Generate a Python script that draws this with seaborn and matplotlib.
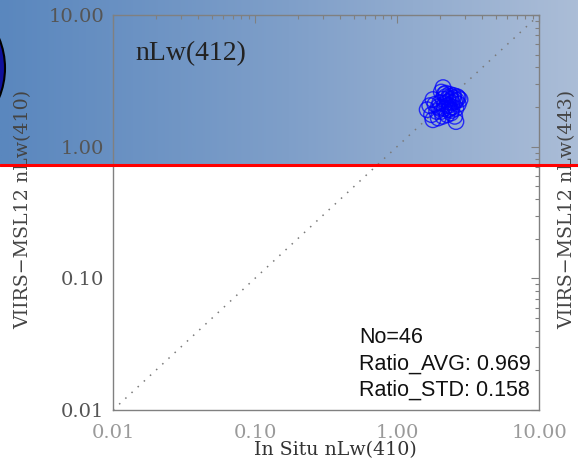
import numpy as np
import pandas as pd
import matplotlib
matplotlib.use("Agg")
import matplotlib.pyplot as plt
import seaborn as sns
from matplotlib.colors import LinearSegmentedColormap
from matplotlib.lines import Line2D
from matplotlib.patches import Circle
from matplotlib.ticker import LogLocator, NullFormatter

# ---- data ----
insitu = [2.11, 2.05, 2.20, 1.79, 1.70, 1.63, 1.75, 1.79, 1.95, 2.60,
          2.55, 2.78, 2.70, 2.65, 2.50, 2.40, 2.30, 2.25, 2.35, 2.45,
          2.15, 2.05, 1.95, 2.00, 2.10, 2.20, 2.35, 2.55, 2.60, 2.40,
          2.25, 2.10, 1.90, 1.85, 2.28, 2.45, 2.18, 2.32, 2.50, 2.38,
          2.15, 2.62, 2.42, 2.00, 2.70, 2.30]
viirs = [2.81, 2.60, 2.55, 2.28, 2.05, 1.91, 1.75, 1.60, 1.65, 1.55,
         1.70, 2.28, 2.10, 2.40, 2.45, 2.30, 2.20, 2.05, 1.95, 2.00,
         1.95, 1.85, 2.00, 2.15, 2.30, 2.40, 2.50, 2.20, 1.95, 1.80,
         1.75, 1.70, 1.85, 2.10, 2.32, 2.15, 2.12, 2.05, 2.35, 2.42,
         2.50, 2.25, 1.88, 1.95, 2.35, 1.90]
diag_x = [0.01, 10.0]
diag_y = [0.01, 10.0]
tick_values = [0.01, 0.1, 1.0, 10.0]
tick_labels = ["0.01", "0.10", "1.00", "10.00"]
band_title = "nLw(412)"
stats_lines = ["No=46", "Ratio_AVG: 0.969", "Ratio_STD: 0.158"]
xlabel = "In Situ nLw(410)"
ylabel = "VIIRS\u2212MSL12 nLw(410)"
ylabel_right = "VIIRS\u2212MSL12 nLw(443)"

df = pd.DataFrame({"insitu": insitu, "viirs": viirs})

sns.set_theme(style="white")
plt.rcParams["font.family"] = ["DejaVu Serif"]

W, H = 578, 476
fig = plt.figure(figsize=(W / 100, H / 100), dpi=100)
fig.patch.set_facecolor("white")

# gradient band at top
red_y = 164.5
bg = fig.add_axes([0, 1 - red_y / H, 1, red_y / H], zorder=0)
bg.axis("off")
cmap = LinearSegmentedColormap.from_list("band", ["#5a87be", "#7f9fc9", "#abbdd7"])
bg.imshow(np.linspace(0, 1, 512)[None, :], aspect="auto", cmap=cmap,
          extent=[0, 1, 0, 1])
bg.set_xlim(0, 1)
bg.set_ylim(0, 1)

# main axes
ax = fig.add_axes([113 / W, 1 - 410 / H, 426 / W, 395 / H], zorder=1)
ax.set_facecolor("none")

ax.plot(diag_x, diag_y, color="#7a7a7a", lw=1.1, linestyle=(0, (1, 4.5)))

sns.scatterplot(data=df, x="insitu", y="viirs", ax=ax, s=125,
                facecolors="none", edgecolor=(0.0, 0.0, 1.0, 0.75),
                linewidth=1.0, legend=False, zorder=3)

ax.set_xscale("log")
ax.set_yscale("log")
ax.set_xlim(0.01, 10)
ax.set_ylim(0.01, 10)
ax.set_xticks(tick_values, tick_labels)
ax.set_yticks(tick_values, tick_labels)
for axis in (ax.xaxis, ax.yaxis):
    axis.set_minor_locator(LogLocator(base=10, subs=np.arange(2, 10)))
    axis.set_minor_formatter(NullFormatter())

ax.tick_params(which="both", direction="in", top=True, right=True,
               color="#808080", width=0.8)
ax.tick_params(which="major", length=6)
ax.tick_params(which="minor", length=3)
ax.tick_params(axis="x", labelcolor="#9a9a9a", labelsize=14, pad=10)
ax.tick_params(axis="y", labelcolor="#555555", labelsize=14, pad=6.5)
for s in ax.spines.values():
    s.set_visible(True)
    s.set_color("#808080")
    s.set_linewidth(1.0)

ax.set_xlabel(xlabel, fontsize=13.7, color="#333333")
ax.xaxis.set_label_coords((335 - 113) / 426, (410 - 450) / 395)
ax.xaxis.label.set_va("center")
ax.set_ylabel(ylabel, fontsize=13.7, color="#444444")
ax.yaxis.set_label_coords((23 - 113) / 426, (410 - 209) / 395)
ax.yaxis.label.set_va("center")
ax.yaxis.label.set_ha("center")

fig.text(567 / W, 1 - 209 / H, ylabel_right, rotation=90, ha="center",
         va="center", fontsize=13.7, color="#444444")

ax.text((135 - 113) / 426, (410 - 60) / 395, band_title, transform=ax.transAxes,
        family=["Liberation Serif"], fontsize=20, color="#222222",
        va="baseline", ha="left")

for line, base in zip(stats_lines, [343, 369.5, 396]):
    ax.text((359 - 113) / 426, (410 - base) / 395, line, transform=ax.transAxes,
            family=["Liberation Sans"], fontsize=15.5, color="#111111",
            va="baseline", ha="left")

# red separator line and partial dark circle at the left edge
fig.add_artist(Line2D([0, 1], [1 - red_y / H] * 2, transform=fig.transFigure,
                      color="#ff0000", lw=2.2, zorder=5))
fig.add_artist(Circle((-0.73, (H - 68) / 100), 0.78,
                      transform=fig.dpi_scale_trans, facecolor="#10109a",
                      edgecolor="black", lw=1.5, zorder=4))

fig.savefig("out.png", dpi=100)
